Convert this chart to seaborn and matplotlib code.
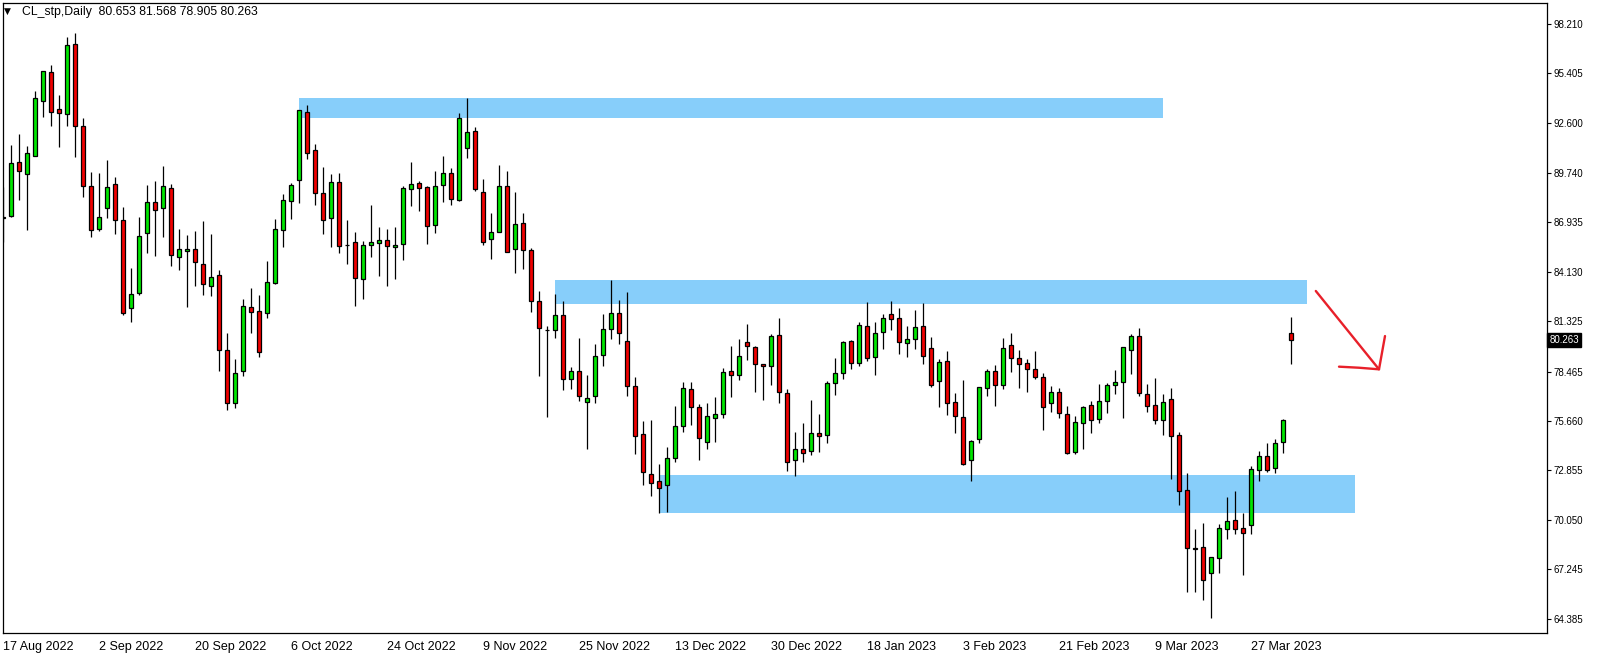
import numpy as np
import pandas as pd
import matplotlib
matplotlib.use("Agg")
import matplotlib.pyplot as plt
import seaborn as sns

# ---- data (CL_stp, daily) ----
opens = [87.25, 87.32, 90.35, 89.67, 90.73, 93.85, 95.46, 93.36, 93.08, 97.05,
         92.39, 88.99, 86.58, 87.74, 89.10, 87.06, 82.06, 82.91, 86.32, 88.08,
         87.74, 88.87, 84.95, 85.29, 85.40, 84.55, 83.34, 83.93, 79.69, 76.70,
         78.50, 82.11, 81.90, 81.77, 83.51, 86.52, 88.13, 89.33, 93.19, 91.03,
         88.59, 87.17, 89.21, 85.64, 85.80, 83.74, 85.64, 85.75, 85.92, 85.52,
         85.69, 88.81, 89.16, 88.93, 86.77, 89.05, 89.72, 88.23, 91.15, 92.11,
         88.65, 86.01, 86.37, 88.99, 85.41, 86.88, 85.35, 82.45, 80.84, 80.80,
         81.66, 78.02, 78.47, 76.71, 77.05, 79.38, 80.86, 81.77, 80.18, 77.62,
         74.89, 72.62, 72.22, 72.00, 73.53, 75.39, 77.45, 76.43, 74.44, 75.80,
         76.03, 78.48, 78.25, 80.12, 79.84, 78.87, 78.76, 80.52, 77.22, 73.42,
         74.04, 73.93, 74.95, 74.84, 77.79, 78.36, 80.18, 78.93, 81.03, 79.27,
         80.69, 81.71, 81.49, 80.07, 80.29, 81.03, 79.78, 77.91, 79.04, 76.71,
         75.86, 73.42, 74.61, 77.51, 78.48, 77.68, 79.95, 79.21, 78.93, 78.59,
         78.13, 76.66, 77.28, 76.03, 73.87, 75.52, 76.54, 75.75, 76.77, 77.68,
         77.85, 79.67, 80.46, 77.17, 76.54, 75.69, 76.88, 74.84, 71.71, 68.42,
         68.48, 67.00, 67.85, 69.50, 70.01, 69.55, 69.72, 72.85, 73.65, 72.96,
         74.44, 80.653]
highs = [88.97, 91.33, 91.96, 91.28, 94.40, 95.52, 95.88, 94.18, 97.45, 97.68,
         92.85, 89.78, 89.72, 90.48, 89.50, 87.79, 84.33, 87.25, 89.06, 89.29,
         90.14, 89.10, 86.55, 86.22, 86.45, 87.02, 86.28, 84.21, 80.67, 79.20,
         82.58, 83.19, 82.81, 84.74, 87.13, 88.53, 89.16, 93.31, 93.61, 91.37,
         90.07, 89.67, 89.73, 87.05, 86.37, 85.86, 87.93, 86.68, 86.56, 86.68,
         88.99, 90.35, 89.27, 88.99, 89.84, 90.69, 90.03, 93.13, 94.00, 92.34,
         89.38, 87.45, 90.18, 89.86, 88.65, 87.45, 85.46, 83.02, 81.03, 82.85,
         82.45, 78.70, 80.35, 78.25, 80.01, 81.71, 83.64, 82.51, 82.96, 78.13,
         75.63, 75.69, 73.21, 74.16, 76.51, 77.85, 77.85, 76.60, 76.66, 77.00,
         78.65, 79.92, 80.29, 81.17, 79.90, 78.87, 80.58, 81.49, 77.45, 75.01,
         75.52, 76.83, 76.03, 77.91, 79.21, 80.18, 80.24, 81.26, 82.40, 81.26,
         81.73, 82.47, 82.05, 81.03, 81.94, 82.34, 80.41, 79.16, 79.61, 77.23,
         77.98, 74.55, 77.57, 78.59, 78.82, 80.35, 80.63, 79.67, 79.16, 79.61,
         78.36, 77.62, 77.51, 76.49, 75.92, 76.49, 76.77, 77.74, 77.79, 78.53,
         79.84, 80.58, 80.92, 77.74, 78.08, 77.17, 77.51, 75.01, 72.68, 69.50,
         69.84, 67.91, 69.78, 71.32, 71.66, 70.41, 73.08, 73.93, 74.38, 74.61,
         75.75, 81.568]
lows = [85.84, 87.26, 88.21, 86.51, 90.73, 92.94, 92.43, 91.24, 92.43, 90.67,
        88.40, 86.13, 86.47, 87.21, 86.26, 81.66, 81.30, 82.83, 85.18, 85.05,
        86.13, 84.48, 84.25, 82.15, 83.34, 82.83, 82.77, 78.51, 76.30, 76.40,
        78.20, 80.64, 79.30, 81.52, 83.42, 85.56, 87.15, 88.06, 90.54, 87.93,
        86.28, 85.56, 85.22, 84.59, 82.21, 82.59, 84.99, 83.91, 83.34, 83.74,
        84.82, 87.89, 87.60, 85.73, 86.35, 88.12, 87.94, 88.17, 90.62, 88.74,
        85.67, 84.88, 86.37, 85.24, 84.08, 84.31, 81.83, 78.23, 75.90, 80.39,
        77.39, 77.45, 76.77, 74.08, 76.69, 78.80, 80.29, 80.01, 77.05, 73.76,
        72.03, 71.41, 70.41, 70.50, 73.34, 75.05, 75.45, 73.46, 74.08, 74.48,
        75.84, 77.04, 78.00, 79.14, 77.32, 76.87, 77.72, 76.66, 72.83, 72.55,
        73.34, 73.74, 73.91, 74.42, 77.15, 78.06, 78.59, 78.76, 79.04, 78.29,
        79.73, 80.82, 79.48, 79.31, 79.73, 78.91, 77.60, 76.47, 76.01, 74.95,
        73.13, 72.26, 74.39, 77.09, 76.53, 77.49, 78.46, 77.55, 77.32, 78.02,
        75.16, 76.19, 75.80, 73.76, 73.76, 74.04, 74.95, 75.52, 76.09, 77.17,
        75.80, 78.31, 77.06, 76.15, 75.46, 74.84, 72.38, 70.90, 65.92, 65.92,
        65.46, 64.44, 67.00, 68.93, 69.21, 66.88, 69.21, 72.22, 72.78, 72.68,
        73.82, 78.905]
closes = [87.20, 90.29, 89.88, 90.86, 93.99, 95.52, 93.19, 93.13, 97.00, 92.43,
          88.99, 86.49, 87.23, 88.93, 87.06, 81.77, 82.85, 86.15, 88.08, 87.62,
          88.99, 85.07, 85.40, 85.40, 84.67, 83.42, 83.81, 79.67, 76.66, 78.40,
          82.17, 81.86, 79.60, 83.53, 86.54, 88.19, 89.04, 93.31, 90.86, 88.63,
          87.09, 89.21, 85.58, 85.64, 83.80, 85.64, 85.80, 85.92, 85.58, 85.64,
          88.87, 89.10, 88.87, 86.71, 88.99, 89.73, 88.29, 92.85, 92.05, 88.85,
          85.84, 86.37, 88.99, 85.24, 86.83, 85.35, 82.45, 80.92, 80.80, 81.66,
          78.02, 78.47, 77.05, 76.98, 79.33, 80.86, 81.77, 80.63, 77.62, 74.78,
          72.73, 72.11, 71.83, 73.53, 75.35, 77.51, 76.43, 74.67, 75.92, 76.03,
          78.42, 78.25, 79.33, 79.90, 78.87, 78.76, 80.46, 77.28, 73.30, 74.04,
          73.82, 74.95, 74.78, 77.79, 78.36, 80.12, 78.93, 81.09, 79.21, 80.63,
          81.49, 81.43, 80.12, 80.29, 80.97, 79.33, 77.72, 78.99, 76.66, 75.96,
          73.19, 74.50, 77.57, 78.48, 77.68, 79.78, 79.21, 78.87, 78.59, 78.13,
          76.43, 77.28, 76.09, 73.82, 75.58, 76.43, 75.69, 76.77, 77.68, 77.85,
          79.84, 80.46, 77.23, 76.49, 75.69, 76.71, 74.78, 71.66, 68.42, 68.40,
          66.60, 67.91, 69.55, 69.95, 69.50, 69.27, 72.91, 73.65, 72.85, 74.38,
          75.69, 80.263]

tick_labels = ["17 Aug 2022", "2 Sep 2022", "20 Sep 2022", "6 Oct 2022",
               "24 Oct 2022", "9 Nov 2022", "25 Nov 2022", "13 Dec 2022",
               "30 Dec 2022", "18 Jan 2023", "3 Feb 2023", "21 Feb 2023",
               "9 Mar 2023", "27 Mar 2023"]
price_ticks = [98.210, 95.405, 92.600, 89.740, 86.935, 84.130, 81.325,
               78.465, 75.660, 72.855, 70.050, 67.245, 64.385]

# supply / demand zones (bar index start/end, price low/high)
zone_start = [37, 69, 82]
zone_end = [145, 163, 169]
zone_low = [92.89, 82.32, 70.44]
zone_high = [94.01, 83.66, 72.59]

# hand drawn red arrow (bar index, price)
arrow_x = [164.1, 172.0]
arrow_y = [83.04, 78.59]
arrow_head_x = [167.0, 169.5, 172.0, 172.75]
arrow_head_y = [78.74, 78.68, 78.59, 80.48]

last_price = 80.263

df = pd.DataFrame({"open": opens, "high": highs, "low": lows, "close": closes})
df["date"] = pd.bdate_range("2022-08-17", periods=len(df))
df["bar"] = np.arange(len(df))
df["up"] = df["close"] >= df["open"]

# ---- style ----
sns.set_style("white")
plt.rcParams["font.family"] = ["Liberation Sans", "DejaVu Sans"]

fig = plt.figure(figsize=(16.04, 6.57), dpi=100)
ax = fig.add_axes([2.7 / 1604, 24 / 657, 1544.3 / 1604, 630 / 657])

# zones
for s, e, lo, hi in zip(zone_start, zone_end, zone_low, zone_high):
    ax.fill_between([s, e], lo, hi, color="#87cefa", lw=0, zorder=1)

# wicks
ax.vlines(df["bar"], df["low"], df["high"], color="black", lw=0.9, zorder=2)

# bodies
body_bottom = df[["open", "close"]].min(axis=1)
body_height = (df["close"] - df["open"]).abs().clip(lower=0.04)
body_colors = np.where(df["up"], "#00e600", "#f00000")
ax.bar(df["bar"], body_height, bottom=body_bottom, width=0.62,
       color=body_colors, edgecolor="black", linewidth=0.9, zorder=3)

# arrow drawing
ax.plot(arrow_x, arrow_y, color="#e8202a", lw=1.7, solid_capstyle="round", zorder=4)
ax.plot(arrow_head_x, arrow_head_y, color="#e8202a", lw=1.7,
        solid_capstyle="round", solid_joinstyle="round", zorder=4)

# axes
ax.set_xlim(-0.04, 193.0)
ax.set_ylim(63.61, 99.40)

ax.set_xticks(np.arange(0, 12 * len(tick_labels), 12))
ax.set_xticklabels(tick_labels, fontsize=9)
for lab in ax.get_xticklabels():
    lab.set_horizontalalignment("left")
ax.tick_params(axis="x", direction="out", length=3.5, width=0.8, pad=2, colors="black")

ax.yaxis.tick_right()
ax.set_yticks(price_ticks)
ax.set_yticklabels([f"{p:.3f}" for p in price_ticks], fontsize=7)
ax.tick_params(axis="y", direction="out", length=3, width=0.8, pad=2, colors="black")

for sp in ax.spines.values():
    sp.set_visible(True)
    sp.set_color("black")
    sp.set_linewidth(0.9)

ax.set_xlabel("")
ax.set_ylabel("")

# current price tag
ax.text(1.0015, last_price, f"{last_price:.3f}", transform=ax.get_yaxis_transform(),
        ha="left", va="center", fontsize=7, color="white", clip_on=False,
        bbox=dict(facecolor="black", edgecolor="black", pad=1.6), zorder=5)

# header
ax.text(0.0008, 0.9865, "\u25bc", transform=ax.transAxes, ha="left", va="center",
        fontsize=6.5, color="black", family=["DejaVu Sans"])
ax.text(0.0125, 0.9865, "CL_stp,Daily  80.653 81.568 78.905 80.263",
        transform=ax.transAxes, ha="left", va="center", fontsize=8.8, color="black")

fig.savefig("out.png", dpi=100, facecolor="white")
